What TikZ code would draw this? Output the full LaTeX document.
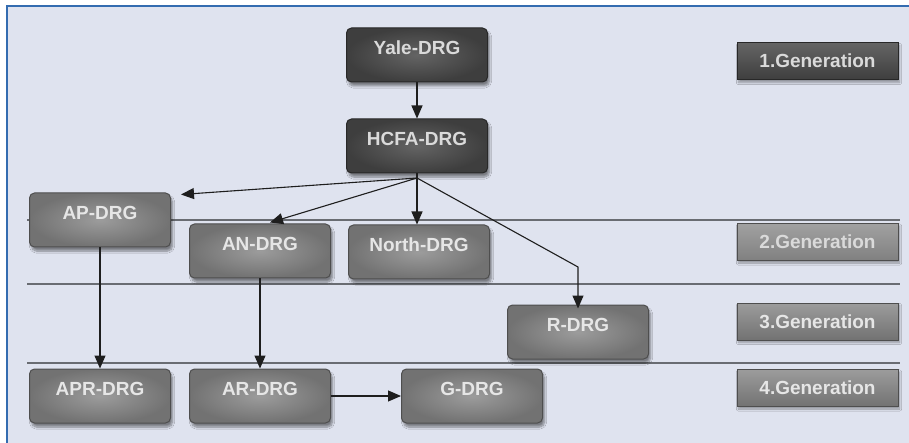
\documentclass[tikz,border=0pt]{standalone}
\usepackage{fontspec}
\setmainfont{Liberation Sans}
\usetikzlibrary{arrows.meta,calc,shadows.blur}
\definecolor{bgc}{RGB}{223,227,239}
\definecolor{framec}{RGB}{52,108,176}
\definecolor{darkin}{RGB}{100,100,100}
\definecolor{darkout}{RGB}{62,62,62}
\definecolor{darkedge}{RGB}{40,40,40}
\definecolor{darktext}{RGB}{218,218,218}
\definecolor{midin}{RGB}{156,156,156}
\definecolor{midout}{RGB}{114,114,114}
\definecolor{midedge}{RGB}{78,78,78}
\definecolor{midtext}{RGB}{230,230,230}
\definecolor{sepc}{RGB}{105,108,114}
\definecolor{arrc}{RGB}{30,30,30}
\begin{document}
\begin{tikzpicture}[x=1pt,y=-1pt,
  boxbase/.style={rounded corners=5pt, line width=1pt, shade,
    minimum width=141pt, minimum height=54pt, inner sep=0pt,
    font=\fontsize{19}{21}\selectfont\bfseries,
    text height=13pt, text depth=14pt,
    blur shadow={shadow xshift=2pt, shadow yshift=-4pt, shadow opacity=45, shadow blur steps=8}},
  darkbox/.style={boxbase, draw=darkedge, shading=radial, inner color=darkin, outer color=darkout, text=darktext},
  midbox/.style={boxbase, draw=midedge, shading=radial, inner color=midin, outer color=midout, text=midtext},
  genbase/.style={line width=1pt, shade, minimum width=161pt, minimum height=37pt, inner sep=0pt,
    font=\fontsize{19}{21}\selectfont\bfseries, text height=13pt, text depth=0pt,
    blur shadow={shadow xshift=1.5pt, shadow yshift=-2.5pt, shadow opacity=35, shadow blur steps=6}},
  gendark/.style={genbase, draw=darkedge, top color=darkin, bottom color=darkout, text=darktext},
  genlight/.style={genbase, draw=midedge, top color=midin!95!white, bottom color=midout!90!white, text=darktext},
  genmid/.style={genbase, draw=midedge, top color=midin, bottom color=midout, text=midtext},
  sepline/.style={draw=sepc, line width=1.6pt},
  conn/.style={draw=arrc, line width=1.1pt, -{Triangle[length=13pt,width=11pt]}}
]
\useasboundingbox (0,0) rectangle (909,443);
\fill[white] (0,0) rectangle (909,443);
\fill[bgc] (7,6) rectangle (909,443);
\draw[framec, line width=2pt] (909,6) -- (7,6) -- (7,443);

% separator lines
\draw[sepline] (27,220) -- (900,220);
\draw[sepline] (27,284) -- (900,284);
\draw[sepline] (27,363) -- (900,363);

% DRG nodes
\node[darkbox] (yale) at (417,55) {Yale-DRG};
\node[darkbox] (hcfa) at (417,146) {HCFA-DRG};
\node[midbox] (ap) at (100,220) {AP-DRG};
\node[midbox] (an) at (260,251) {AN-DRG};
\node[midbox] (north) at (419,252) {North-DRG};
\node[midbox] (r) at (578,332) {R-DRG};
\node[midbox] (apr) at (100,396) {APR-DRG};
\node[midbox] (ar) at (260,396) {AR-DRG};
\node[midbox] (g) at (472,396) {G-DRG};

% generation labels
\node[gendark] (gen1) at (817.5,61.5) {1.Generation};
\node[genlight] (gen2) at (817.5,242) {2.Generation};
\node[genmid] (gen3) at (817.5,321.5) {3.Generation};
\node[genmid] (gen4) at (817.5,388) {4.Generation};

% connectors
\coordinate (hub) at (417,178);
\coordinate (rbend) at (578,267);
\draw[conn] (yale) -- (hcfa);
\draw[draw=arrc, line width=1.1pt] (hcfa.south) -- (hub);
\draw[conn] (hub) -- ($(ap.north east)+(10,2)$);
\draw[conn] (hub) -- ($(an.north)+(10,-1)$);
\draw[conn] (hub) -- (hub |- north.north);
\draw[conn] (hub) -- (rbend) -- ($(r.north)+(0,4)$);
\draw[conn] (ap) -- (apr);
\draw[conn] (an) -- (ar);
\draw[conn] (ar) -- (g);
\end{tikzpicture}
\end{document}
